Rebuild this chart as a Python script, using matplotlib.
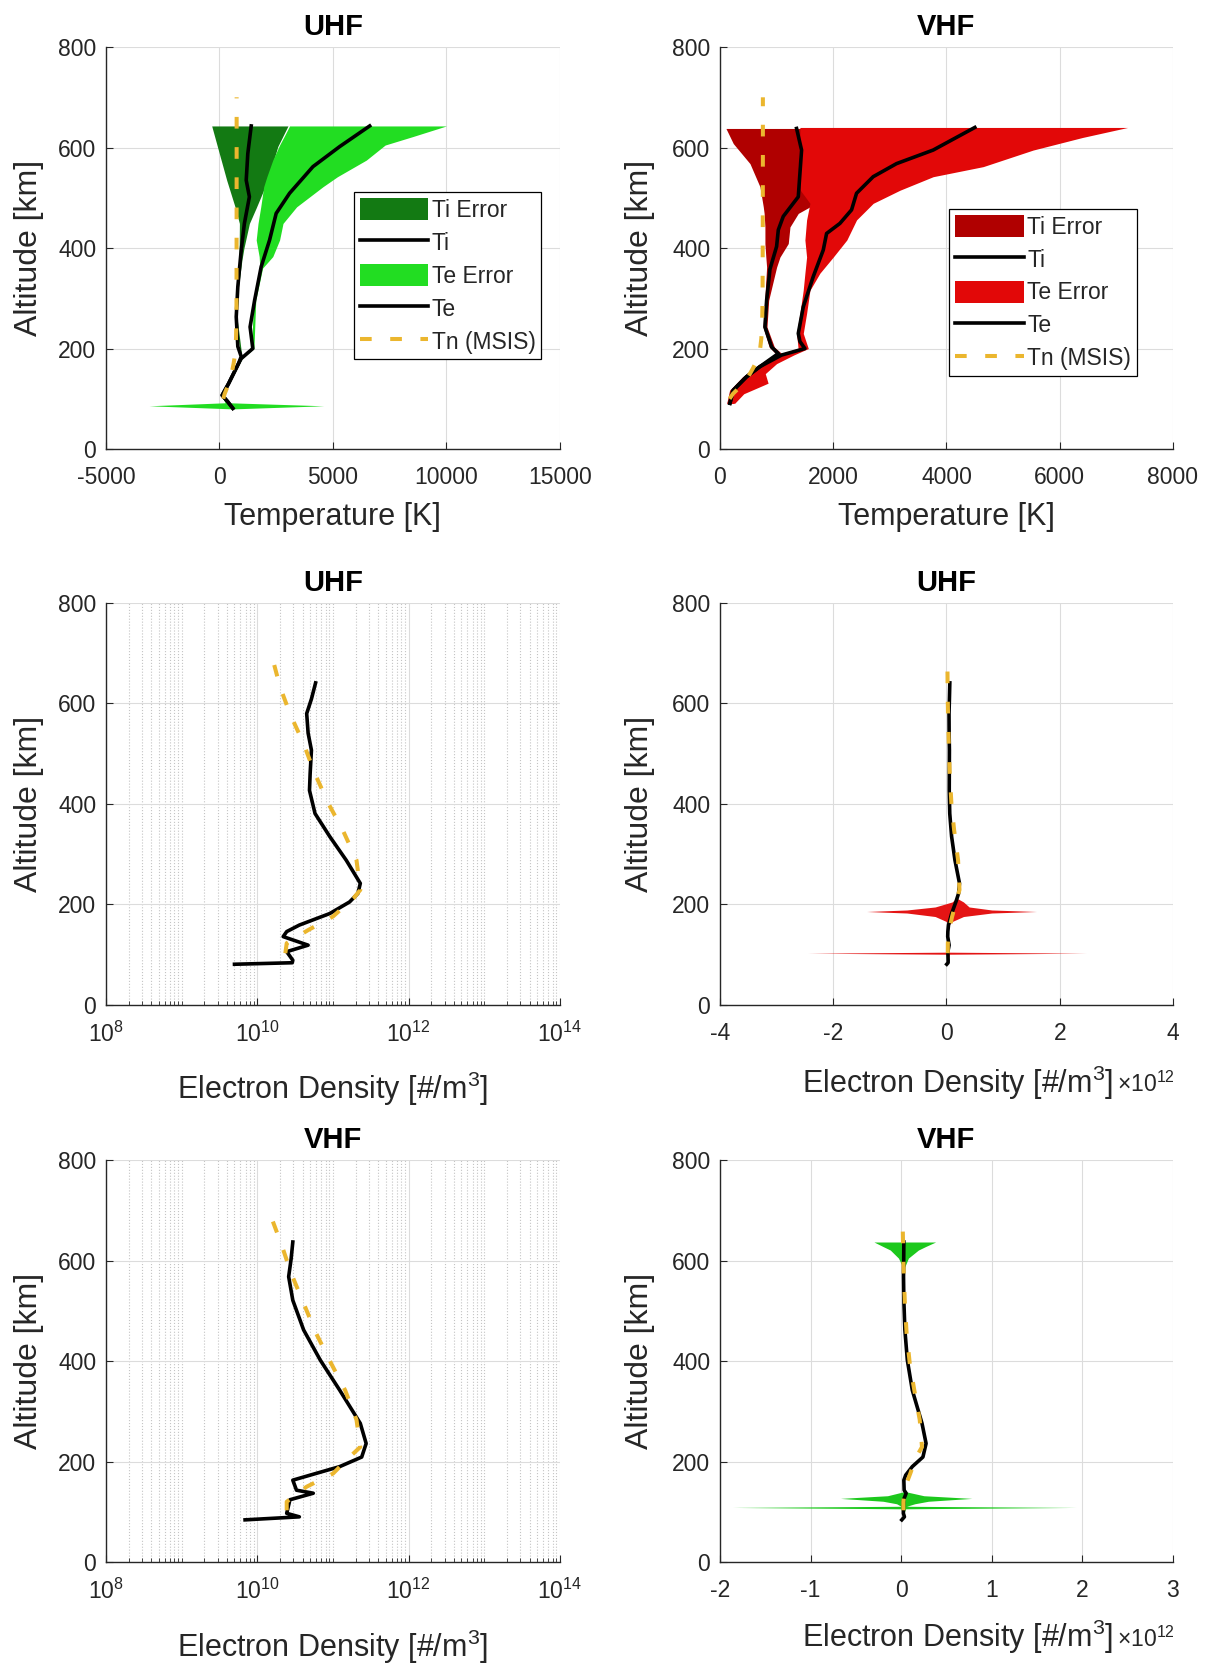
import numpy as np
import matplotlib
matplotlib.use('Agg')
import matplotlib.pyplot as plt
from matplotlib.patches import Patch
from matplotlib.lines import Line2D
from matplotlib.ticker import LogLocator, NullFormatter, ScalarFormatter

plt.rcParams['font.family'] = ['Liberation Sans', 'DejaVu Sans']
plt.rcParams['axes.unicode_minus'] = False
plt.rcParams['mathtext.fontset'] = 'custom'
plt.rcParams['mathtext.rm'] = 'Liberation Sans'

# ---- MSIS neutral temperature (same profile for both radars)
tn_alt = [100, 110, 120, 130, 140, 150, 160, 170, 180, 190, 200, 220, 250, 300, 400, 500, 600, 700]
tn_temp = [170, 230, 320, 400, 470, 530, 580, 625, 660, 690, 710, 730, 745, 752, 755, 757, 758, 758]

# ---- UHF temperatures [K]
uhf_ti_alt = [81, 95, 107, 130, 150, 170, 184, 204, 263, 323, 396, 449, 502, 535, 588, 643]
uhf_ti = [590, 350, 120, 400, 620, 840, 960, 810, 740, 810, 960, 1100, 1320, 1180, 1250, 1400]
uhf_te_alt = [81, 95, 107, 130, 150, 170, 180, 200, 243, 296, 363, 416, 469, 509, 562, 602, 643]
uhf_te = [590, 350, 120, 400, 620, 840, 960, 1470, 1350, 1550, 1840, 2210, 2500, 3090, 4120, 5300, 6620]

uhf_ti_err_alt = [81, 107, 184, 263, 323, 376, 400, 449, 480, 535, 602, 643]
uhf_ti_err_lo = [560, 90, 930, 710, 780, 860, 870, 880, 700, 320, -90, -340]
uhf_ti_err_hi = [620, 150, 990, 770, 840, 990, 1080, 1320, 1620, 2130, 2570, 3020]

uhf_te_err_alt = [80, 86, 92, 107, 180, 200, 296, 360, 383, 416, 449, 482, 522, 542, 575, 605, 622, 643]
uhf_te_err_lo = [500, -3100, 250, 90, 920, 1420, 1500, 1780, 1750, 1620, 1700, 1820, 1950, 2090, 2350, 2650, 2850, 3090]
uhf_te_err_hi = [680, 4600, 450, 150, 1000, 1520, 1600, 1900, 2350, 2650, 2800, 3400, 4560, 5200, 6470, 7300, 8530, 10000]

# ---- VHF temperatures [K]
vhf_ti_alt = [91, 117, 144, 164, 190, 203, 243, 296, 358, 403, 436, 463, 502, 595, 638]
vhf_ti = [176, 235, 471, 706, 1030, 912, 794, 824, 883, 1000, 1030, 1118, 1383, 1441, 1353]
vhf_te_alt = [91, 117, 144, 164, 187, 200, 214, 230, 283, 343, 396, 429, 449, 476, 509, 542, 568, 595, 640]
vhf_te = [176, 235, 471, 706, 1088, 1500, 1412, 1383, 1471, 1647, 1824, 1883, 2118, 2324, 2412, 2706, 3118, 3765, 4501]

vhf_ti_err_alt = [91, 117, 144, 164, 190, 203, 243, 296, 362, 382, 409, 442, 469, 482, 522, 568, 608, 638]
vhf_ti_err_lo = [120, 170, 400, 640, 980, 870, 760, 790, 824, 810, 794, 794, 780, 765, 706, 530, 235, 106]
vhf_ti_err_hi = [240, 330, 560, 780, 1090, 960, 830, 860, 1000, 1059, 1206, 1236, 1383, 1589, 1800, 2000, 2300, 2500]

vhf_te_err_alt = [91, 110, 131, 150, 170, 187, 200, 230, 270, 316, 350, 382, 416, 456, 489, 515, 542, 562, 595, 620, 640]
vhf_te_err_lo = [120, 190, 330, 520, 780, 980, 1380, 1353, 1412, 1470, 1500, 1530, 1500, 1530, 1589, 1420, 1412, 1383, 1400, 1410, 1412]
vhf_te_err_hi = [260, 420, 850, 800, 1000, 1300, 1560, 1471, 1530, 1589, 1765, 2000, 2240, 2412, 2706, 3177, 3765, 4648, 5530, 6400, 7200]

# ---- electron density [#/m^3]
uhf_ne_alt = [81, 84, 89, 106, 119, 136, 146, 159, 182, 205, 222, 242, 288, 335, 381, 427, 461, 507, 541, 580, 609, 641]
uhf_ne = [5.0e9, 2.9e10, 2.95e10, 2.45e10, 4.7e10, 2.2e10, 2.45e10, 3.6e10, 9.1e10, 1.66e11, 2.14e11,
          2.3e11, 1.5e11, 9.1e10, 5.8e10, 4.9e10, 5.0e10, 5.2e10, 4.7e10, 4.5e10, 5.2e10, 5.9e10]
uhf_model_alt = [103, 123, 149, 176, 212, 229, 288, 348, 401, 461, 520, 580, 633, 696]
uhf_model_ne = [2.35e10, 2.45e10, 4.7e10, 1.0e11, 1.86e11, 2.3e11, 2.05e11, 1.35e11, 8.7e10, 5.75e10,
                4.1e10, 2.7e10, 2.0e10, 1.55e10]

vhf_ne_alt = [84, 90, 97, 124, 137, 143, 163, 173, 190, 209, 236, 276, 342, 402, 462, 521, 568, 603, 637]
vhf_ne = [6.9e9, 3.6e10, 2.45e10, 2.7e10, 5.5e10, 3.3e10, 2.95e10, 5.0e10, 1.23e11, 2.4e11, 2.75e11,
          2.3e11, 1.23e11, 6.8e10, 4.1e10, 2.95e10, 2.6e10, 2.8e10, 2.95e10]
vhf_model_alt = [103, 120, 150, 176, 209, 229, 283, 342, 395, 455, 515, 575, 631, 690]
vhf_model_ne = [2.45e10, 2.45e10, 4.5e10, 1.0e11, 1.66e11, 2.3e11, 2.05e11, 1.45e11, 9.5e10, 6.0e10,
                4.1e10, 2.8e10, 2.1e10, 1.5e10]

# density error bands (only the visible spikes)
uhf_ne_err_alt = [95, 101, 103, 105, 112]
uhf_ne_err_lo = [0.01e12, 0.0, -2.45e12, 0.0, 0.02e12]
uhf_ne_err_hi = [0.04e12, 0.05e12, 2.47e12, 0.05e12, 0.04e12]
uhf_ne_err2_alt = [160, 166, 176, 183, 186, 189, 195, 205, 212]
uhf_ne_err2_lo = [0.03e12, 0.0, -0.2e12, -0.7e12, -1.41e12, -0.7e12, -0.2e12, 0.1e12, 0.17e12]
uhf_ne_err2_hi = [0.05e12, 0.1e12, 0.3e12, 0.8e12, 1.59e12, 0.8e12, 0.4e12, 0.3e12, 0.19e12]

vhf_ne_err_alt = [98, 106, 108.7, 111, 116, 121, 126.7, 132, 140]
vhf_ne_err_lo = [0.01e12, 0.0, -1.86e12, 0.0, -0.05e12, -0.2e12, -0.67e12, -0.15e12, 0.03e12]
vhf_ne_err_hi = [0.03e12, 0.05e12, 1.93e12, 0.06e12, 0.15e12, 0.3e12, 0.78e12, 0.25e12, 0.05e12]
vhf_ne_err2_alt = [585, 590, 605, 621, 628, 637]
vhf_ne_err2_lo = [0.025e12, 0.01e12, -0.03e12, -0.12e12, -0.2e12, -0.30e12]
vhf_ne_err2_hi = [0.03e12, 0.045e12, 0.08e12, 0.19e12, 0.27e12, 0.38e12]

# colours
txt = '#262626'
yel = '#ebb62e'
dkgreen, ltgreen = '#137a13', '#22dd22'
dkred, ltred = '#b00000', '#e20808'
ne_red, ne_green = '#e41414', '#1cc81c'
dash = (2.9, 4.6)
lw_k = 2.6

fig = plt.figure(figsize=(12.08, 16.63), dpi=100)
col_x = [0.0877, 0.596]
col_w = [0.3758, 0.375]
row_y = [0.7300, 0.3957, 0.0607]
row_h = 0.2417


def style(ax, ylab_x):
    ax.spines['top'].set_visible(False)
    ax.spines['right'].set_visible(False)
    for s in ('left', 'bottom'):
        ax.spines[s].set_linewidth(1.0)
        ax.spines[s].set_color(txt)
    ax.tick_params(which='major', direction='in', length=5, width=0.8, labelsize=16.5,
                   colors=txt)
    ax.tick_params(axis='x', pad=12)
    ax.tick_params(axis='y', pad=7)
    ax.grid(True, which='major', color='#dcdcdc', lw=0.8)
    ax.set_axisbelow(True)
    ax.set_ylim(0, 800)
    ax.set_yticks([0, 200, 400, 600, 800])
    ax.set_ylabel('Altitude [km]', fontsize=23, color=txt)
    ax.yaxis.set_label_coords(ylab_x, 0.5)
    ax.yaxis.label.set_va('center')


def temp_panel(ax, title, ti_alt, ti, te_alt, te, ti_e_alt, ti_lo, ti_hi,
               te_e_alt, te_lo, te_hi, c_dark, c_light):
    ax.fill_betweenx(ti_e_alt, ti_lo, ti_hi, color=c_dark, lw=0)
    ax.plot(ti, ti_alt, color='k', lw=lw_k)
    ax.fill_betweenx(te_e_alt, te_lo, te_hi, color=c_light, lw=0)
    ax.plot(te, te_alt, color='k', lw=lw_k)
    ax.plot(tn_temp, tn_alt, color=yel, lw=2.9, dashes=dash)
    ax.set_title(title, fontsize=21, fontweight='bold', color='k', pad=9)
    ax.set_xlabel('Temperature [K]', fontsize=22, color=txt)


def log_panel(ax, title, alt, ne, m_alt, m_ne):
    ax.set_xscale('log')
    ax.plot(ne, alt, color='k', lw=lw_k)
    ax.plot(m_ne, m_alt, color=yel, lw=2.9, dashes=dash)
    ax.set_xlim(1e8, 1e14)
    ax.set_xticks([1e8, 1e10, 1e12, 1e14])
    ax.xaxis.set_minor_locator(LogLocator(base=10, subs=np.arange(1, 10), numticks=100))
    ax.xaxis.set_minor_formatter(NullFormatter())
    ax.tick_params(which='minor', direction='in', length=3, width=0.6, colors=txt)
    ax.grid(True, which='minor', axis='x', color='#c4c4c4', lw=0.8, ls=':')
    ax.set_title(title, fontsize=21, fontweight='bold', color='k', pad=9)
    ax.set_xlabel('Electron Density [#/m$^3$]', fontsize=22, color=txt)


def lin_panel(ax, title, alt, ne, m_alt, m_ne, bands, c, xlim, xticks):
    ax.plot(ne, alt, color='k', lw=lw_k)
    for e_alt, e_lo, e_hi in bands:
        ax.fill_betweenx(e_alt, e_lo, e_hi, color=c, lw=0)
    ax.plot(m_ne, m_alt, color=yel, lw=2.9, dashes=dash)
    ax.set_xlim(*xlim)
    ax.set_xticks(xticks)
    ax.xaxis.set_major_formatter(ScalarFormatter())
    ax.xaxis.get_offset_text().set_visible(False)
    ax.set_title(title, fontsize=21, fontweight='bold', color='k', pad=9)
    ax.set_xlabel('Electron Density [#/m$^3$]', fontsize=22, color=txt)


# --- row 1: temperatures
ax1 = fig.add_axes([col_x[0], row_y[0], col_w[0], row_h])
temp_panel(ax1, 'UHF', uhf_ti_alt, uhf_ti, uhf_te_alt, uhf_te,
           uhf_ti_err_alt, uhf_ti_err_lo, uhf_ti_err_hi,
           uhf_te_err_alt, uhf_te_err_lo, uhf_te_err_hi, dkgreen, ltgreen)
ax1.set_xlim(-5000, 15000)
ax1.set_xticks([-5000, 0, 5000, 10000, 15000])
style(ax1, -0.17)
ax1.xaxis.set_label_coords(0.5, -0.168)
ax1.xaxis.label.set_va('center')

ax2 = fig.add_axes([col_x[1], row_y[0], col_w[1], row_h])
temp_panel(ax2, 'VHF', vhf_ti_alt, vhf_ti, vhf_te_alt, vhf_te,
           vhf_ti_err_alt, vhf_ti_err_lo, vhf_ti_err_hi,
           vhf_te_err_alt, vhf_te_err_lo, vhf_te_err_hi, dkred, ltred)
ax2.set_xlim(0, 8000)
ax2.set_xticks([0, 2000, 4000, 6000, 8000])
style(ax2, -0.177)
ax2.xaxis.set_label_coords(0.5, -0.168)
ax2.xaxis.label.set_va('center')

for ax, cd, cl, anchor in [(ax1, dkgreen, ltgreen, (0.546, 0.639)),
                           (ax2, dkred, ltred, (0.506, 0.597))]:
    handles = [Patch(facecolor=cd, edgecolor='none', label='Ti Error'),
               Line2D([], [], color='k', lw=lw_k, label='Ti'),
               Patch(facecolor=cl, edgecolor='none', label='Te Error'),
               Line2D([], [], color='k', lw=lw_k, label='Te'),
               Line2D([], [], color=yel, lw=2.9, dashes=dash, label='Tn (MSIS)')]
    leg = ax.legend(handles=handles, loc='upper left', bbox_to_anchor=anchor,
                    fontsize=16.5, frameon=True, fancybox=False, edgecolor='k',
                    framealpha=1, borderpad=0.25, handlelength=3.0, handleheight=1.1,
                    handletextpad=0.15, labelspacing=0.4, borderaxespad=0)
    leg.get_frame().set_linewidth(0.9)
    for t in leg.get_texts():
        t.set_color(txt)

# --- row 2: UHF density
ax3 = fig.add_axes([col_x[0], row_y[1], col_w[0], row_h])
log_panel(ax3, 'UHF', uhf_ne_alt, uhf_ne, uhf_model_alt, uhf_model_ne)
style(ax3, -0.17)
ax3.xaxis.set_label_coords(0.5, -0.209)
ax3.xaxis.label.set_va('center')

ax4 = fig.add_axes([col_x[1], row_y[1], col_w[1], row_h])
lin_panel(ax4, 'UHF', uhf_ne_alt, uhf_ne, uhf_model_alt, uhf_model_ne,
          [(uhf_ne_err_alt, uhf_ne_err_lo, uhf_ne_err_hi),
           (uhf_ne_err2_alt, uhf_ne_err2_lo, uhf_ne_err2_hi)], ne_red,
          (-4e12, 4e12), [-4e12, -2e12, 0, 2e12, 4e12])
style(ax4, -0.177)
ax4.xaxis.set_label_coords(0.525, -0.194)
ax4.xaxis.label.set_va('center')
ax4.text(1.005, -0.198, r'$\times\mathdefault{10^{12}}$', transform=ax4.transAxes,
         ha='right', va='center', fontsize=16.5, color=txt)

# --- row 3: VHF density
ax5 = fig.add_axes([col_x[0], row_y[2], col_w[0], row_h])
log_panel(ax5, 'VHF', vhf_ne_alt, vhf_ne, vhf_model_alt, vhf_model_ne)
style(ax5, -0.17)
ax5.xaxis.set_label_coords(0.5, -0.211)
ax5.xaxis.label.set_va('center')

ax6 = fig.add_axes([col_x[1], row_y[2], col_w[1], row_h])
lin_panel(ax6, 'VHF', vhf_ne_alt, vhf_ne, vhf_model_alt, vhf_model_ne,
          [(vhf_ne_err_alt, vhf_ne_err_lo, vhf_ne_err_hi),
           (vhf_ne_err2_alt, vhf_ne_err2_lo, vhf_ne_err2_hi)], ne_green,
          (-2e12, 3e12), [-2e12, -1e12, 0, 1e12, 2e12, 3e12])
style(ax6, -0.177)
ax6.xaxis.set_label_coords(0.525, -0.187)
ax6.xaxis.label.set_va('center')
ax6.text(1.005, -0.191, r'$\times\mathdefault{10^{12}}$', transform=ax6.transAxes,
         ha='right', va='center', fontsize=16.5, color=txt)

fig.savefig('out.png', dpi=100, facecolor='white')
